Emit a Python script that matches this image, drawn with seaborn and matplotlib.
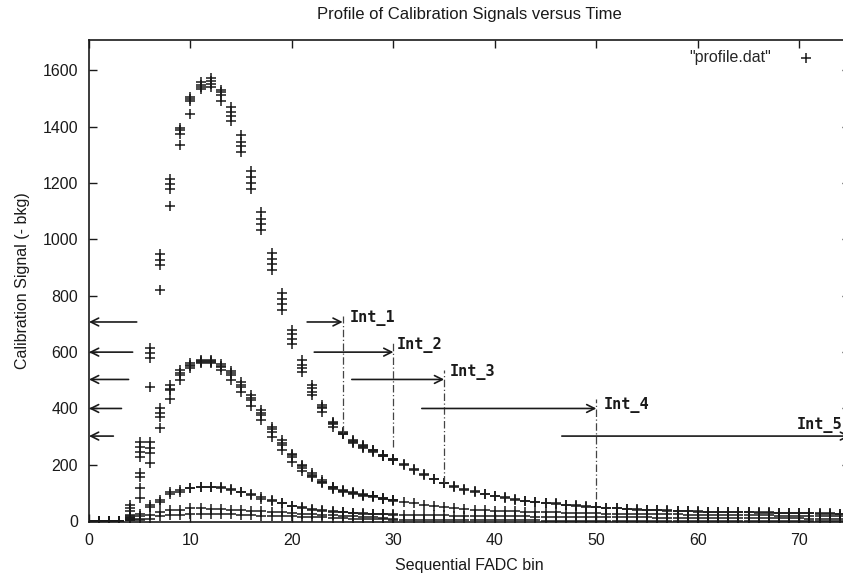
import matplotlib
matplotlib.use("Agg")
import matplotlib.pyplot as plt
import pandas as pd
import seaborn as sns

# ---------------- data ----------------
bins_rise = list(range(0, 31))   # bins 0..30, replicate-resolved
bins_tail = list(range(31, 75))  # bins 31..74

big_1 = [1, 1, 1, 2, 57, 281, 613, 947, 1216, 1397, 1505, 1558, 1573, 1529, 1470, 1369,
         1243, 1097, 952, 810, 680, 571, 482, 411, 352, 317, 287, 270, 254, 236, 220]
big_2 = [0, 1, 0, 1, 45, 264, 596, 928, 1198, 1387, 1498, 1547, 1562, 1523, 1452, 1346,
         1221, 1074, 932, 790, 666, 553, 471, 404, 347, 313, 284, 267, 252, 234, 219]
big_3 = [1, 0, 1, 1, 35, 246, 578, 911, 1180, 1375, 1491, 1540, 1553, 1511, 1437, 1330,
         1200, 1056, 914, 772, 648, 542, 459, 400, 344, 311, 282, 264, 250, 233, 218]
big_4 = [0, 0, 0, 0, 20, 228, 475, 820, 1117, 1337, 1446, 1535, 1541, 1493, 1420, 1310,
         1180, 1032, 890, 751, 630, 530, 447, 388, 335, 309, 279, 260, 246, 231, 216]
big_tail_a = [202, 184, 167, 151, 136, 124, 113, 106, 98, 90, 84, 78, 72, 68, 65, 63, 59,
              57, 53, 51, 48, 46, 44, 42, 40, 39, 38, 37, 36, 35, 34, 33, 33, 32, 32, 31,
              31, 30, 30, 29, 29, 28, 28, 27]
big_tail_b = [198, 181, 164, 148, 134, 122, 111, 104, 96, 88, 82, 76, 71, 67, 63, 61, 58,
              55, 52, 50, 47, 45, 43, 41, 39, 38, 37, 36, 35, 34, 33, 32, 32, 31, 31, 30,
              30, 29, 29, 28, 28, 27, 27, 26]

mid_1 = [0, 0, 1, 2, 22, 171, 281, 400, 482, 536, 562, 571, 571, 557, 533, 494, 447, 394,
         335, 287, 240, 201, 171, 145, 122, 110, 102, 95, 90, 82, 76]
mid_2 = [0, 1, 0, 1, 15, 157, 259, 385, 470, 527, 555, 568, 568, 552, 525, 485, 438, 385,
         326, 278, 234, 195, 165, 140, 120, 108, 100, 93, 89, 81, 75]
mid_3 = [1, 0, 0, 1, 10, 116, 241, 370, 465, 518, 550, 565, 565, 547, 518, 476, 429, 376,
         317, 270, 228, 189, 160, 138, 117, 106, 99, 92, 88, 80, 74]
mid_4 = [0, 0, 0, 0, 5, 82, 205, 329, 435, 500, 542, 562, 562, 538, 500, 459, 408, 358,
         299, 252, 210, 177, 157, 136, 113, 104, 98, 91, 87, 79, 73]
mid_tail = [68, 63, 57, 53, 49, 45, 42, 40, 38, 37, 36, 35, 34, 33, 32, 31, 30, 29, 29, 28,
            27, 27, 26, 26, 25, 25, 24, 24, 23, 23, 23, 22, 22, 22, 21, 21, 21, 20, 20, 20,
            20, 19, 19, 19]

small_1 = [0, 0, 0, 1, 12, 27, 57, 74, 104, 110, 119, 122, 123, 120, 113, 105, 96, 86, 74,
           65, 55, 49, 44, 39, 35, 32, 30, 28, 26, 25, 24]
small_2 = [0, 0, 0, 0, 8, 20, 50, 68, 96, 104, 116, 120, 121, 118, 111, 103, 92, 80, 72, 63,
           53, 45, 40, 37, 33, 31, 29, 27, 25, 24, 23]
small_tail = [23, 22, 22, 21, 21, 20, 20, 19, 19, 18, 18, 17, 17, 16, 16, 16, 15, 15, 15, 14,
              14, 14, 13, 13, 13, 12, 12, 12, 12, 11, 11, 11, 11, 11, 10, 10, 10, 10, 10, 10,
              9, 9, 9, 9]

tiny_1 = [0, 0, 0, 0, 5, 8, 21, 33, 39, 40, 45, 45, 44, 43, 41, 39, 37, 35, 33, 31, 29, 27,
          25, 23, 21, 19, 17, 15, 13, 11, 9]
tiny_2 = [0, 0, 0, 0, 3, 4, 6, 18, 21, 22, 27, 27, 26, 25, 24, 23, 22, 20, 19, 18, 17, 16,
          14, 13, 12, 10, 9, 8, 7, 6, 5]
tiny_tail = [5, 5, 4, 4, 4, 4, 4, 3, 3, 3, 3, 3, 3, 3, 2, 2, 2, 2, 2, 2, 2, 2, 2, 2, 1, 1, 1,
             1, 1, 1, 1, 1, 1, 1, 1, 1, 1, 1, 0, 0, 0, 0, 0, 0]

# integration windows (annotations)
int_names = ["Int_1", "Int_2", "Int_3", "Int_4", "Int_5"]
int_ends = [25, 30, 35, 50, 75]
int_levels = [707, 600, 503, 400, 302]
int_arrow_from = [21.5, 22.2, 25.9, 32.8, 46.6]
left_arrow_from = [4.7, 4.3, 3.9, 3.2, 2.4]
int_vline_top = [727, 640, 535, 435]
int_vline_bottom = [312, 262, 135, 78]
int_label_x = [25.7, 30.3, 35.6, 50.7, 69.75]
int_label_y = [722, 624, 530, 412, 340]

x_ticks = [0, 10, 20, 30, 40, 50, 60, 70]
y_ticks = [0, 200, 400, 600, 800, 1000, 1200, 1400, 1600]

# ---------------- build table ----------------
frames = []
for run in [big_1, big_2, big_3, big_4, mid_1, mid_2, mid_3, mid_4,
            small_1, small_2, tiny_1, tiny_2]:
    frames.append(pd.DataFrame({"bin": bins_rise, "signal": run}))
for tail in [big_tail_a, big_tail_b, mid_tail, small_tail, tiny_tail]:
    frames.append(pd.DataFrame({"bin": bins_tail, "signal": tail}))
df = pd.concat(frames, ignore_index=True)

# ---------------- style ----------------
sns.set_style("ticks", {"xtick.direction": "in", "ytick.direction": "in"})
plt.rcParams["font.family"] = ["Liberation Sans", "DejaVu Sans"]
INK = "#1a1a1a"

fig = plt.figure(figsize=(8.43, 5.76), dpi=100)
ax = fig.add_axes([89 / 843, 1 - 522 / 576, 761 / 843, 482 / 576])

sns.scatterplot(data=df, x="bin", y="signal", marker="+", color=INK, s=42,
                linewidth=1.1, ax=ax, label='"profile.dat"', legend=False)

ax.set_xlim(0, 75)
ax.set_ylim(-3, 1708)
ax.set_xticks(x_ticks)
ax.set_yticks(y_ticks)
ax.tick_params(axis="both", which="major", direction="in", length=6, width=1.0,
               top=True, right=True, labelsize=11.5, colors=INK, pad=8)
for sp in ax.spines.values():
    sp.set_visible(True)
    sp.set_linewidth(1.2)
    sp.set_color(INK)

ax.set_xlabel("Sequential FADC bin", fontsize=11.5, labelpad=7, color=INK)
ax.set_ylabel("Calibration Signal (- bkg)", fontsize=11.5, labelpad=9, color=INK)
ax.set_title("Profile of Calibration Signals versus Time", fontsize=12, pad=15, color=INK)

# legend (gnuplot style: text then marker sample)
handle = ax.collections[0]
ax.legend([handle], ['"profile.dat"'], loc="upper right",
          bbox_to_anchor=((814 - 89) / 761, (522 - 50) / 482),
          frameon=False, borderpad=0, borderaxespad=0, handlelength=1.0,
          handletextpad=1.7, markerfirst=False, scatterpoints=1, fontsize=11.5)

arrow_kw = dict(arrowstyle="->", lw=1.2, color=INK, shrinkA=0, shrinkB=0,
                mutation_scale=14)
for lvl, start, end, lstart in zip(int_levels, int_arrow_from, int_ends, left_arrow_from):
    ax.annotate("", xy=(end, lvl), xytext=(start, lvl), arrowprops=arrow_kw,
                annotation_clip=False)
    ax.annotate("", xy=(0, lvl), xytext=(lstart, lvl), arrowprops=arrow_kw,
                annotation_clip=False)

ax.vlines(int_ends[:4], int_vline_bottom, int_vline_top, colors="#444444",
          linewidth=0.9, linestyles=(0, (6, 2, 1, 2)))

for name, lx, ly in zip(int_names, int_label_x, int_label_y):
    ax.text(lx, ly, name, family="DejaVu Sans Mono", fontweight="bold",
            fontsize=11, ha="left", va="center", color=INK, clip_on=False)

fig.savefig("out.png", dpi=100)
